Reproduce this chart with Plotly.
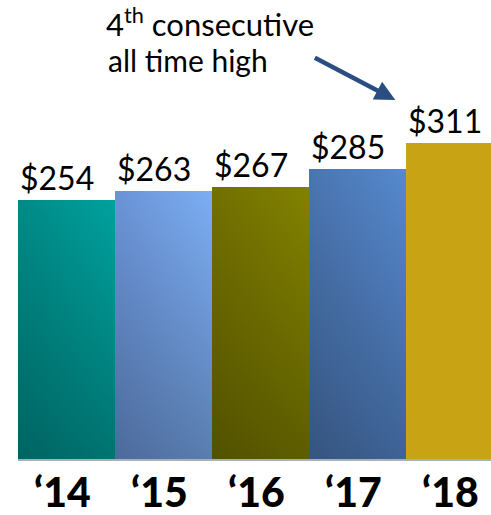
import plotly.graph_objects as go

# Annual values (USD)
years = ["‘14", "‘15", "‘16", "‘17", "‘18"]
values = [254, 263, 267, 285, 311]
value_labels = ["$254", "$263", "$267", "$285", "$311"]

# Left / right gradient colours for each bar
left_colors = ["#008a87", "#6a93d6", "#727000", "#4a75b0", "#c8a414"]
right_colors = ["#00a19d", "#7caef4", "#828200", "#5689cf", "#c8a414"]

FONT = "Lato"
BASE = -5

fig = go.Figure()

for i, (v, lc, rc) in enumerate(zip(values, left_colors, right_colors)):
    xs = [i - 0.5, i + 0.5, i + 0.5, i - 0.5, i - 0.5]
    ys = [BASE, BASE, v, v, BASE]
    # bar body with a left-to-right gradient
    fig.add_trace(go.Scatter(
        x=xs, y=ys, mode="lines", fill="toself", line=dict(width=0),
        fillgradient=dict(type="horizontal", colorscale=[[0, lc], [1, rc]]),
        hoverinfo="skip", showlegend=False,
    ))
    # darker shading toward the bottom of the bar
    if lc != rc:
        fig.add_trace(go.Scatter(
            x=xs, y=ys, mode="lines", fill="toself", line=dict(width=0),
            fillgradient=dict(type="vertical",
                              colorscale=[[0, "rgba(0,0,0,0.28)"], [1, "rgba(0,0,0,0)"]]),
            hoverinfo="skip", showlegend=False,
        ))
    # value label, left-aligned on the bar
    fig.add_annotation(
        x=i - 0.5, y=v, xref="x", yref="y", text=value_labels[i],
        showarrow=False, xanchor="left", yanchor="bottom", yshift=1,
        font=dict(family=FONT, size=32, color="#000000"),
    )
    # year label under the bar
    fig.add_annotation(
        x=i - 0.04, y=0, xref="x", yref="paper", text=years[i],
        showarrow=False, xanchor="center", yanchor="top", yshift=-6,
        font=dict(family=FONT, size=41, color="#000000", weight=900),
    )

# call-out text and arrow
fig.add_annotation(
    x=0.405, y=1.0, xref="paper", yref="paper", yanchor="top", yshift=0,
    text="4<sup>th</sup> consecutive", showarrow=False,
    font=dict(family=FONT, size=31, color="#000000"),
)
fig.add_annotation(
    x=0.36, y=1.0, xref="paper", yref="paper", yanchor="top", yshift=-40,
    text="all time high", showarrow=False,
    font=dict(family=FONT, size=30, color="#000000"),
)
fig.add_annotation(
    x=3.39, y=354, xref="x", yref="y", text="",
    showarrow=True, axref="pixel", ayref="pixel", ax=-82, ay=-43,
    arrowhead=2, arrowsize=0.9, arrowwidth=4.5, arrowcolor="#2b4e82",
)

fig.update_layout(
    width=491, height=515,
    margin=dict(l=18, r=0, t=0, b=56),
    paper_bgcolor="white", plot_bgcolor="white",
    showlegend=False,
    xaxis=dict(range=[-0.5, 4.376], showgrid=False, zeroline=False,
               showticklabels=False, showline=True, linecolor="#aab0ba",
               linewidth=2, fixedrange=True),
    yaxis=dict(range=[BASE, 454], showgrid=False, zeroline=False,
               showticklabels=False, showline=False, fixedrange=True),
)

fig.write_html("out.html")
